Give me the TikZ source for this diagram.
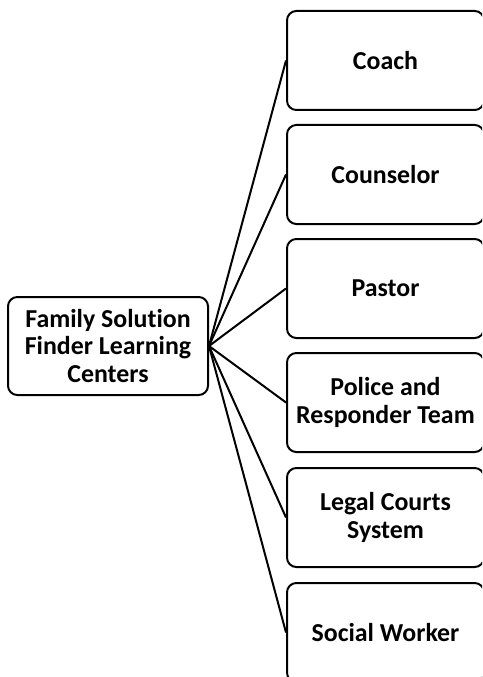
\documentclass[tikz,border=0pt]{standalone}
\usepackage{fontspec}
\setmainfont[Ligatures=NoCommon]{Carlito}
\begin{document}
\begin{tikzpicture}[x=0.75pt,y=-0.75pt,
  box/.style={draw=black,line width=1.5pt,rounded corners=7pt,align=center,
    font=\bfseries\fontsize{19.4}{20.8}\selectfont,inner sep=0pt},
  rbox/.style={box,minimum width=147.75pt,minimum height=74.25pt},
  link/.style={draw=black,line width=1.5pt}]
\useasboundingbox (0,0) rectangle (482,677);
\clip (0,0) rectangle (482,677);
\node[box,minimum width=150pt,minimum height=73.5pt] (L) at (108,346) {Family Solution\\Finder Learning\\Centers};
\node[rbox] (c1) at (385.5,60.5) {Coach};
\node[rbox] (c2) at (385.5,174.5) {Counselor};
\node[rbox] (c3) at (385.5,288.5) {Pastor};
\node[rbox] (c4) at (385.5,402.5) {Police and\\Responder Team};
\node[rbox] (c5) at (385.5,517.5) {Legal Courts\\System};
\node[rbox] (c6) at (385.5,632.5) {Social Worker};
\foreach \n in {c1,c2,c3,c4,c5,c6} \draw[link] (L.east) -- (\n.west);
\end{tikzpicture}
\end{document}
